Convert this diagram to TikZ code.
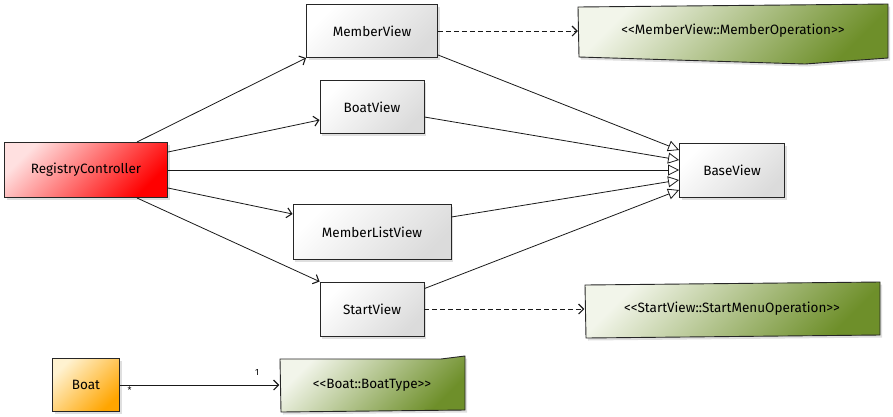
\documentclass[tikz,border=0pt]{standalone}
\usepackage{fontspec}
\setmainfont{Fira Sans}
\usetikzlibrary{arrows.meta,shadows,backgrounds}
\definecolor{grn}{HTML}{6E8F2A}
\definecolor{grnl}{HTML}{F2F5EA}
\definecolor{redl}{HTML}{FFE0E0}
\definecolor{orn}{HTML}{FFA500}
\definecolor{ornl}{HTML}{FFF2D0}
\begin{document}
\begin{tikzpicture}[x=1pt,y=-1pt,
  base/.style={draw=black!85, line width=0.9pt, inner sep=0pt,
    font=\fontsize{13.5}{15}\selectfont,
    drop shadow={opacity=0.25,shadow xshift=2pt,shadow yshift=-2.5pt}},
  view/.style={base, left color=white, right color=black!14, shading angle=45},
  ctrl/.style={base, left color=redl, right color=red, shading angle=45},
  ent/.style={base, left color=ornl, right color=orn, shading angle=45},
  enumtxt/.style={inner sep=0pt, font=\fontsize{13.5}{15}\selectfont},
  enumbox/.style={draw=black!85, line width=0.9pt, left color=grnl, right color=grn, shading angle=45,
    drop shadow={opacity=0.25,shadow xshift=2pt,shadow yshift=-2.5pt}},
  assoc/.style={draw=black!90, line width=0.8pt, -{Straight Barb[length=5pt,width=10pt,line width=1.1pt]}},
  inherit/.style={draw=black!90, line width=0.8pt, -{Triangle[open,length=11pt,width=11pt,fill=white]}},
  dep/.style={assoc, dashed, dash pattern=on 5pt off 3pt}
]
\useasboundingbox (0,0) rectangle (893,416);

% class boxes
\node[ctrl, minimum width=163pt, minimum height=55pt] (rc) at (86,170) {RegistryController};
\node[view, minimum width=131pt, minimum height=53pt] (mv) at (372,31) {MemberView};
\node[view, minimum width=104pt, minimum height=53pt] (bv) at (372,107) {BoatView};
\node[view, minimum width=105pt, minimum height=54pt] (base) at (732,170) {BaseView};
\node[view, minimum width=158pt, minimum height=55pt] (mlv) at (372,232) {MemberListView};
\node[view, minimum width=104pt, minimum height=54pt] (sv) at (372,309) {StartView};
\node[ent, minimum width=67pt, minimum height=53pt] (boat) at (86,385) {Boat};

% enumeration boxes (text nodes; shapes drawn behind)
\node[enumtxt, minimum width=310pt, minimum height=54pt] (mo) at (733,31) {<{}<MemberView::MemberOperation>{}>};
\node[enumtxt, minimum width=295pt, minimum height=54pt] (smo) at (732,309) {<{}<StartView::StartMenuOperation>{}>};
\node[enumtxt, minimum width=185pt, minimum height=53pt] (bt) at (372,385) {<{}<Boat::BoatType>{}>};

\begin{pgfonlayer}{background}
\path[enumbox] (578,7) -- (888,4) -- (888,58) -- (805,64) -- (579,57) -- cycle;
\path[enumbox] (585,285) -- (880,282) -- (880,335) -- (586,338) -- cycle;
\path[enumbox] (280,359) -- (441,359) -- (465,356) -- (465,410) -- (281,412) -- cycle;
\end{pgfonlayer}

% associations from controller
\draw[assoc] (rc.north east) ++(-31,0) coordinate (rc1) (rc1) -- (mv.south west);
\draw[assoc] (rc.east |- 0,152) -- (bv.west |- 0,120);
\draw[assoc] (rc.east |- 0,188) -- (mlv.west |- 0,214);
\draw[assoc] (rc.south east) ++(-31,0) coordinate (rc2) (rc2) -- (sv.north west);

% generalizations to BaseView
\draw[inherit] (rc.east) -- (base.west);
\draw[inherit] (mv.south east) ++(0,-3) coordinate (mv1) (mv1) -- (base.west |- 0,150);
\draw[inherit] (bv.east |- 0,117) -- (base.west |- 0,160);
\draw[inherit] (mlv.east |- 0,217) -- (base.west |- 0,180);
\draw[inherit] (sv.north east) ++(0,7) coordinate (sv1) (sv1) -- (base.west |- 0,190);

% dependencies
\draw[dep] (mv.east) -- (mo.west);
\draw[dep] (sv.east) -- (smo.west);

% boat association
\draw[assoc] (boat.east) -- (bt.west)
  node[pos=0.06, below, font=\fontsize{9}{10}\selectfont, inner sep=1pt] (m1) {*}
  node[pos=0.86, above=8pt, font=\fontsize{9}{10}\selectfont, inner sep=1pt] (m2) {1};
\end{tikzpicture}
\end{document}
